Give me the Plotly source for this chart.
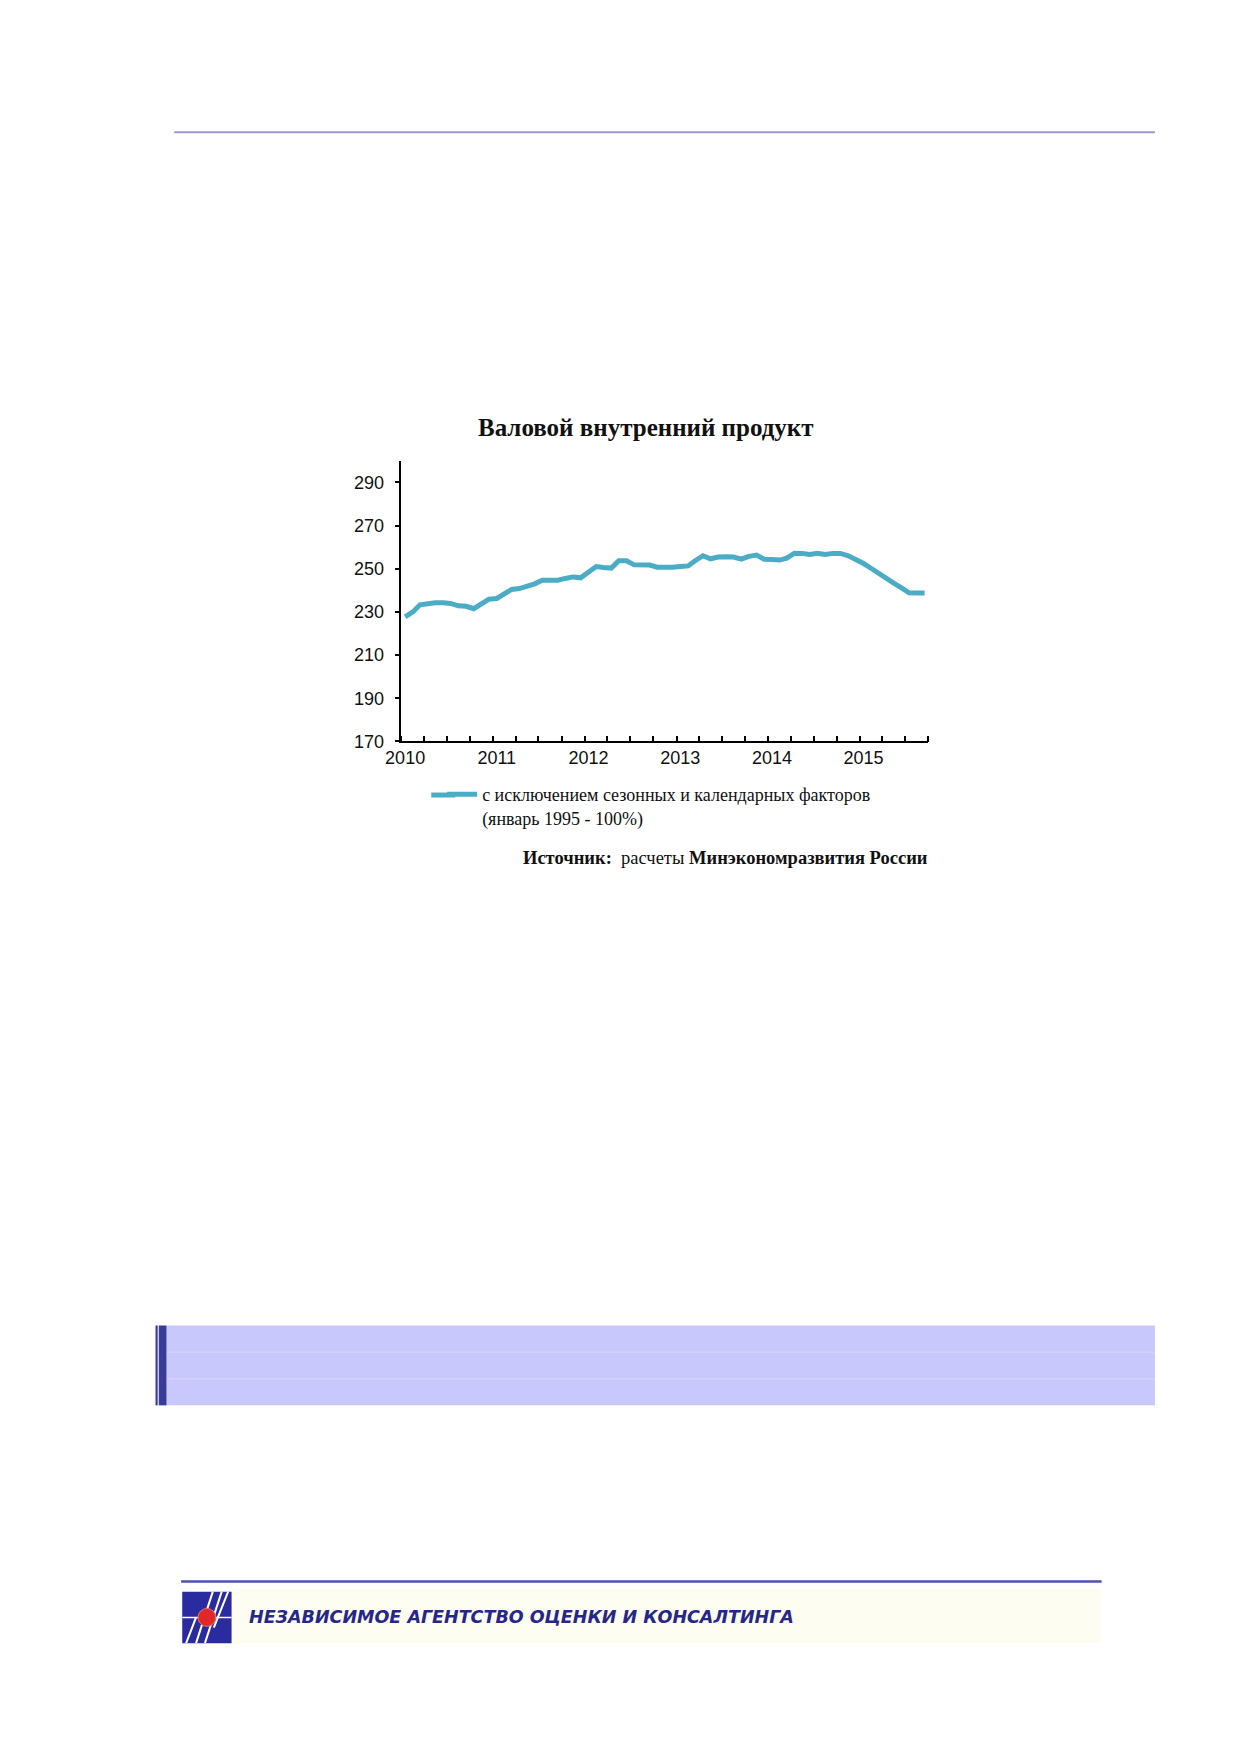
import plotly.graph_objects as go
import pandas as pd

# ---- data -------------------------------------------------------------
title_text = "Валовой внутренний продукт"
series_name = "с исключением сезонных и календарных факторов<br>(январь 1995 - 100%)"
source_text = "<b>Источник:</b>  расчеты <b>Минэкономразвития России</b>"
logo_text = "НЕЗАВИСИМОЕ АГЕНТСТВО ОЦЕНКИ И КОНСАЛТИНГА"

gdp_2010 = [227.7, 230.0, 233.3, 233.9, 234.2, 234.2, 233.9, 232.8, 232.6, 231.5, 234.0, 235.9]
gdp_2011 = [236.2, 238.2, 240.4, 240.8, 241.8, 243.0, 244.7, 244.8, 244.7, 245.5, 246.2, 245.8]
gdp_2012 = [248.6, 251.0, 250.6, 250.3, 253.7, 253.7, 251.8, 252.0, 251.7, 250.7, 250.6, 250.7]
gdp_2013 = [251.0, 251.3, 253.7, 256.0, 254.6, 255.4, 255.5, 255.4, 254.4, 255.7, 256.3, 254.4]
gdp_2014 = [254.3, 254.0, 254.9, 257.2, 257.1, 256.6, 257.1, 256.6, 257.1, 257.1, 256.0, 254.4]
gdp_2015 = [252.4, 250.1, 247.8, 245.5, 243.3, 241.1, 238.8, 238.7, 238.7]
gdp = gdp_2010 + gdp_2011 + gdp_2012 + gdp_2013 + gdp_2014 + gdp_2015

years = [2010, 2011, 2012, 2013, 2014, 2015]
y_ticks = [170, 190, 210, 230, 250, 270, 290]
y_range = [170, 300]

# monthly categories (mid-month positions)
month_starts = pd.date_range("2010-01-01", periods=len(gdp) + 1, freq="MS")
months = month_starts[:-1] + pd.Timedelta(days=15)

# ---- page geometry helpers -------------------------------------------
W, H = 1239, 1752
def px(x):
    return x / W
def py(y):
    return 1 - y / H

LINE_COLOR = "#4BACC6"
TEXT_COLOR = "#111111"

fig = go.Figure()
fig.add_trace(go.Scatter(
    x=months, y=gdp, mode="lines", name=series_name,
    line=dict(color=LINE_COLOR, width=5),
    showlegend=True,
))

plot_l, plot_r, plot_t, plot_b = 390.4, 924.3, 463.4, 745.7

fig.update_layout(
    width=W, height=H,
    margin=dict(l=0, r=0, t=0, b=0),
    paper_bgcolor="white", plot_bgcolor="white",
    title=dict(text="<b>" + title_text + "</b>", x=px(638), y=py(430),
               xanchor="center", yanchor="middle", xref="paper", yref="paper",
               font=dict(family="Liberation Serif", size=25, color=TEXT_COLOR)),
    xaxis=dict(
        domain=[px(plot_l), px(plot_r)],
        range=[month_starts[0], month_starts[-1]],
        type="date",
        showline=True, linecolor="black", linewidth=1.5,
        showgrid=False, zeroline=False,
        tickvals=[pd.Timestamp(f"{y}-01-16") for y in years],
        ticktext=[str(y) for y in years],
        ticks="", ticklabelstandoff=-1,
        tickfont=dict(family="Liberation Sans", size=18, color=TEXT_COLOR),
        minor=dict(ticks="inside", ticklen=6, tickwidth=1.5, tickcolor="black",
                   tick0=month_starts[0], dtick="M3", showgrid=False),
    ),
    yaxis=dict(
        domain=[py(plot_b), py(plot_t)],
        range=y_range,
        showline=True, linecolor="black", linewidth=1.5,
        showgrid=False, zeroline=False,
        tickvals=y_ticks, ticks="outside", ticklen=5, tickwidth=1.5, tickcolor="black",
        ticklabelstandoff=7,
        tickfont=dict(family="Liberation Sans", size=18, color=TEXT_COLOR),
    ),
    legend=dict(
        x=px(431.7), y=py(780.5), xanchor="left", yanchor="top",
        xref="paper", yref="paper",
        bgcolor="rgba(0,0,0,0)", valign="top",
        font=dict(family="Liberation Serif", size=18, color=TEXT_COLOR),
        itemwidth=30,
    ),
)

# source annotation
fig.add_annotation(
    text=source_text, x=px(925.6), y=py(863), xref="paper", yref="paper",
    xanchor="right", yanchor="middle", showarrow=False,
    font=dict(family="Liberation Serif", size=18.5, color=TEXT_COLOR),
)

BAND_L, BAND_R, BAND_T, BAND_B = 141.4, 1153.8, 1333.2, 1413.4

shapes = []
# legend sample extension (reference sample is wider than plotly's)
shapes.append(dict(type="line", xref="paper", yref="paper",
                   x0=px(420.7), x1=px(445), y0=py(799.6), y1=py(799.6),
                   line=dict(color=LINE_COLOR, width=5)))
# top rule
shapes.append(dict(type="line", xref="paper", yref="paper",
                   x0=px(160.3), x1=px(BAND_R), y0=py(133), y1=py(133),
                   line=dict(color="#9A9AC8", width=2)))
# section band
shapes.append(dict(type="rect", xref="paper", yref="paper",
                   x0=px(BAND_L), x1=px(BAND_R), y0=py(BAND_B), y1=py(BAND_T),
                   fillcolor="#C8C8FC", line=dict(width=0), layer="below"))
for frac in (1 / 3, 2 / 3):
    yy = BAND_T + (BAND_B - BAND_T) * frac
    shapes.append(dict(type="line", xref="paper", yref="paper",
                       x0=px(BAND_L), x1=px(BAND_R), y0=py(yy), y1=py(yy),
                       line=dict(color="#D6D6FD", width=1)))
shapes.append(dict(type="rect", xref="paper", yref="paper",
                   x0=px(BAND_L), x1=px(BAND_L + 2), y0=py(BAND_B), y1=py(BAND_T),
                   fillcolor="#3A3A9A", line=dict(width=0)))
shapes.append(dict(type="rect", xref="paper", yref="paper",
                   x0=px(BAND_L + 3.5), x1=px(BAND_L + 11), y0=py(BAND_B), y1=py(BAND_T),
                   fillcolor="#3A3A9A", line=dict(width=0)))
# bottom rule
shapes.append(dict(type="line", xref="paper", yref="paper",
                   x0=px(167.3), x1=px(1099.8), y0=py(1590.6), y1=py(1590.6),
                   line=dict(color="#5050B0", width=2.5)))
# logo block
LG_L, LG_R, LG_T, LG_B = 168.4, 218.4, 1600.8, 1652.6
shapes.append(dict(type="rect", xref="paper", yref="paper",
                   x0=px(LG_R), x1=px(1099.8), y0=py(LG_B), y1=py(LG_T - 3),
                   fillcolor="#FDFDF2", line=dict(width=0), layer="below"))
shapes.append(dict(type="rect", xref="paper", yref="paper",
                   x0=px(LG_L), x1=px(LG_R), y0=py(LG_B), y1=py(LG_T),
                   fillcolor="#2B2BA0", line=dict(width=0)))
for (fx0, fy0, fx1, fy1) in [(0.28, 1.0, 0.62, 0.0), (0.46, 1.0, 0.80, 0.0),
                             (0.64, 0.70, 0.93, 0.0), (0.08, 1.0, 0.28, 0.50)]:
    shapes.append(dict(type="line", xref="paper", yref="paper",
                       x0=px(LG_L + fx0 * (LG_R - LG_L)), x1=px(LG_L + fx1 * (LG_R - LG_L)),
                       y0=py(LG_T + fy0 * (LG_B - LG_T)), y1=py(LG_T + fy1 * (LG_B - LG_T)),
                       line=dict(color="white", width=2)))
ymid = (LG_T + LG_B) / 2
xmid = (LG_L + LG_R) / 2
shapes.append(dict(type="line", xref="paper", yref="paper",
                   x0=px(LG_L), x1=px(LG_R), y0=py(ymid), y1=py(ymid),
                   line=dict(color="white", width=1.5)))
shapes.append(dict(type="circle", xref="paper", yref="paper",
                   x0=px(xmid - 9), x1=px(xmid + 9), y0=py(ymid + 9), y1=py(ymid - 9),
                   fillcolor="#E02828", line=dict(color="#F07070", width=1)))
fig.update_layout(shapes=shapes)

fig.add_annotation(
    text="<b><i>" + logo_text + "</i></b>", x=px(234.2), y=py(1626.6),
    xref="paper", yref="paper", xanchor="left", yanchor="middle", showarrow=False,
    font=dict(family="DejaVu Sans", size=17.5, color="#26268C"),
)

fig.write_html("out.html", config={"displayModeBar": False},
               post_script="document.body.style.margin='0';document.body.style.overflow='hidden';")
